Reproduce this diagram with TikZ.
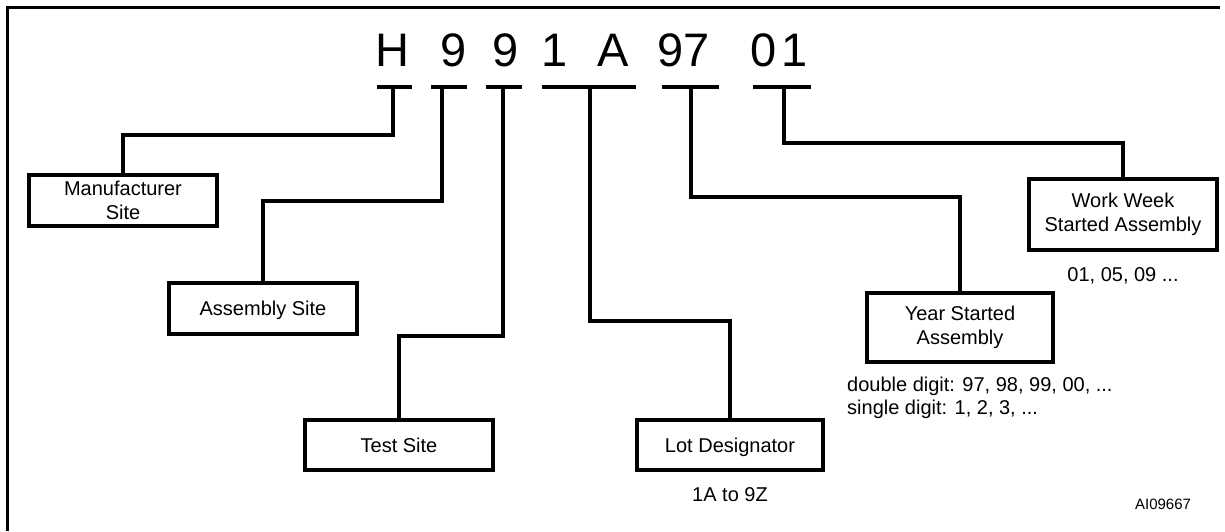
\documentclass[tikz,border=0pt]{standalone}
\usepackage{fontspec}
\setmainfont{Liberation Sans}
\begin{document}
\begin{tikzpicture}[x=1pt,y=-1pt,
  wire/.style={line width=3.2pt,line join=miter},
  box/.style={draw,line width=3.2pt,align=center,inner sep=0pt,
    font=\fontsize{20}{24.5}\selectfont},
  oneline/.style={text height=14.5pt,text depth=0pt},
  big/.style={anchor=base,inner sep=0pt,font=\fontsize{47}{50}\selectfont},
  note/.style={inner sep=0pt,font=\fontsize{20}{23}\selectfont}]
\useasboundingbox (0,0) rectangle (1225,531);
% frame (cropped at right and bottom)
\draw[line width=3.2pt] (7.5,531) -- (7.5,7.5) -- (1220,7.5);
% code characters
\node[big] (cH) at (392,66) {H};
\node[big] (c9a) at (454,66) {9};
\node[big] (c9b) at (506,66) {9};
\node[big] (c1) at (555,66) {1};
\node[big] (cA) at (613,66) {A};
\node[big] (c9c) at (671,66) {9};
\node[big] (c7) at (697,66) {7};
\node[big] (c0) at (764,66) {0};
\node[big] (c1b) at (795,66) {1};
% bars under the characters
\coordinate (hL) at (377,87); \coordinate (hR) at (412,87); \coordinate (hS) at (393,87);
\coordinate (aL) at (431,87); \coordinate (aR) at (467,87); \coordinate (aS) at (442,87);
\coordinate (tL) at (486,87); \coordinate (tR) at (522,87); \coordinate (tS) at (503,87);
\coordinate (lL) at (542,87); \coordinate (lR) at (636,87); \coordinate (lS) at (590,87);
\coordinate (yL) at (662,87); \coordinate (yR) at (719,87); \coordinate (yS) at (691,87);
\coordinate (wL) at (753,87); \coordinate (wR) at (811,87); \coordinate (wS) at (784,87);
\foreach \a/\b in {hL/hR,aL/aR,tL/tR,lL/lR,yL/yR,wL/wR} \draw[wire] (\a) -- (\b);
% boxes
\node[box,minimum width=188pt,minimum height=51pt] (mfg) at (123,200.5) {Manufacturer\\Site};
\node[box,oneline,minimum width=188pt,minimum height=51pt] (asm) at (263,308.5) {Assembly Site};
\node[box,oneline,minimum width=188pt,minimum height=50pt] (test) at (399,445) {Test Site};
\node[box,oneline,minimum width=186pt,minimum height=50pt] (lot) at (730,445) {Lot Designator};
\node[box,minimum width=186pt,minimum height=69pt] (year) at (960,327.5) {Year Started\\Assembly};
\node[box,minimum width=188pt,minimum height=71pt] (ww) at (1123,214.5) {Work Week\\Started Assembly};
% bend points
\coordinate (jH) at (123,135);
\coordinate (jA) at (263,201);
\coordinate (jT) at (399,336);
\coordinate (jL) at (730,321);
\coordinate (jY) at (960,197);
\coordinate (jW) at (1123,143);
% connectors
\draw[wire] (hS) |- (jH) -- (mfg.north);
\draw[wire] (aS) |- (jA) -- (asm.north);
\draw[wire] (tS) |- (jT) -- (test.north);
\draw[wire] (lS) |- (jL) -- (lot.north);
\draw[wire] (yS) |- (jY) -- (year.north);
\draw[wire] (wS) |- (jW) -- (ww.north);
% notes
\node[note] (nlot) at (730,495) {1A to 9Z};
\node[note] (nww) at (1123,276) {01, 05, 09 ...};
\node[note,anchor=west,align=left] (nyear) at (847,397.5) {double digit: 97, 98, 99, 00, ...\\single digit: 1, 2, 3, ...};
\node[inner sep=0pt,font=\fontsize{15}{18}\selectfont] (ref) at (1163,504) {AI09667};
\end{tikzpicture}
\end{document}
